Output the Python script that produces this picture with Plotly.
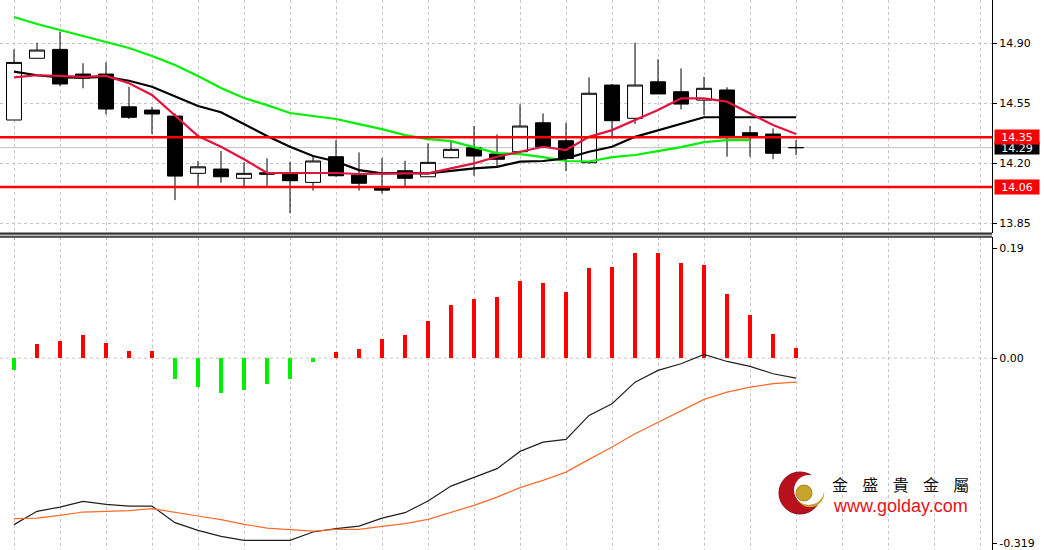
import plotly.graph_objects as go

# ---------------- data ----------------
candle_idx = list(range(35))
opens = [14.451, 14.811, 14.863, 14.719, 14.719, 14.528, 14.509, 14.474, 14.140, 14.165,
         14.111, 14.143, 14.140, 14.087, 14.237, 14.130, 14.062, 14.155, 14.120, 14.231,
         14.289, 14.253, 14.266, 14.435, 14.330, 14.202, 14.655, 14.461, 14.674, 14.616,
         14.567, 14.626, 14.377, 14.369, 14.290]
highs = [14.863, 14.902, 14.966, 14.782, 14.787, 14.645, 14.528, 14.490, 14.213, 14.270,
         14.204, 14.228, 14.208, 14.237, 14.334, 14.262, 14.229, 14.213, 14.315, 14.324,
         14.416, 14.367, 14.542, 14.490, 14.435, 14.700, 14.660, 14.902, 14.805, 14.752,
         14.703, 14.642, 14.416, 14.402, 14.334]
lows = [14.451, 14.811, 14.649, 14.636, 14.484, 14.457, 14.369, 13.984, 14.062, 14.085,
        14.062, 14.062, 13.907, 14.039, 14.120, 14.039, 14.023, 14.062, 14.120, 14.227,
        14.126, 14.178, 14.257, 14.286, 14.153, 14.198, 14.353, 14.428, 14.603, 14.513,
        14.480, 14.237, 14.237, 14.222, 14.247]
closes = [14.787, 14.859, 14.661, 14.696, 14.515, 14.467, 14.486, 14.124, 14.178, 14.120,
          14.140, 14.135, 14.097, 14.212, 14.126, 14.082, 14.042, 14.111, 14.204, 14.280,
          14.241, 14.222, 14.416, 14.295, 14.227, 14.607, 14.447, 14.655, 14.603, 14.544,
          14.636, 14.350, 14.350, 14.257, 14.290]

ma_slow_green = [15.052, 15.011, 14.976, 14.941, 14.906, 14.871, 14.824, 14.772, 14.708, 14.638,
                 14.579, 14.538, 14.492, 14.474, 14.457, 14.427, 14.398, 14.363, 14.340, 14.328,
                 14.293, 14.258, 14.252, 14.235, 14.212, 14.209, 14.235, 14.247, 14.270, 14.293,
                 14.322, 14.334, 14.334]
ma_mid_black = [14.733, 14.712, 14.700, 14.698, 14.703, 14.680, 14.645, 14.587, 14.533, 14.496,
                14.428, 14.358, 14.295, 14.241, 14.209, 14.159, 14.140, 14.143, 14.140, 14.155,
                14.169, 14.178, 14.208, 14.212, 14.227, 14.266, 14.295, 14.353, 14.392, 14.431,
                14.467, 14.467, 14.467, 14.467, 14.467]
ma_fast_red = [14.700, 14.712, 14.708, 14.703, 14.708, 14.665, 14.597, 14.480, 14.358, 14.295,
               14.222, 14.143, 14.143, 14.143, 14.142, 14.136, 14.140, 14.140, 14.140, 14.169,
               14.198, 14.237, 14.266, 14.295, 14.276, 14.353, 14.392, 14.451, 14.509, 14.577,
               14.577, 14.558, 14.490, 14.422, 14.369]

resistance_level = 14.35
support_level = 14.06
bid_level = 14.29

price_tickvals = [14.90, 14.55, 14.20, 13.85]
price_ticktext = ["14.90", "14.55", "14.20", "13.85"]

macd_hist = [-0.0212, 0.0236, 0.0293, 0.0402, 0.0264, 0.0121, 0.0126, -0.0357, -0.0500, -0.0603,
             -0.0557, -0.0443, -0.0357, -0.0069, 0.0103, 0.0150, 0.0322, 0.0402, 0.0633, 0.0909,
             0.1022, 0.1052, 0.1328, 0.1298, 0.1138, 0.1557, 0.1581, 0.1810, 0.1816, 0.1638,
             0.1609, 0.1109, 0.0747, 0.0409, 0.0178]
macd_line = [-0.2872, -0.2643, -0.2569, -0.2471, -0.2522, -0.2552, -0.2552, -0.2838, -0.2971, -0.3074,
             -0.3143, -0.3143, -0.3143, -0.3000, -0.2941, -0.2897, -0.2759, -0.2666, -0.2466, -0.2207,
             -0.2052, -0.1907, -0.1609, -0.1448, -0.1402, -0.0988, -0.0786, -0.0414, -0.0212, -0.0097,
             0.0064, -0.0057, -0.0143, -0.0269, -0.0345]
signal_line = [-0.2769, -0.2759, -0.2712, -0.2655, -0.2643, -0.2631, -0.2597, -0.2666, -0.2724, -0.2786,
               -0.2867, -0.2931, -0.2959, -0.2983, -0.2953, -0.2953, -0.2902, -0.2855, -0.2781, -0.2666,
               -0.2540, -0.2397, -0.2234, -0.2109, -0.1966, -0.1747, -0.1534, -0.1303, -0.1103, -0.0902,
               -0.0712, -0.0586, -0.0500, -0.0441, -0.0414]

macd_tickvals = [0.19, 0.0, -0.319]
macd_ticktext = ["0.19", "0.00", "-0.319"]

logo_title = ["金", "盛", "貴", "金", "屬"]
logo_url = "www.golday.com"

# ---------------- layout helpers (pixel -> paper) ----------------
W, H = 1044, 550
PLOT_W = 992


def px_x(p):
    return p / PLOT_W


def px_y(p):
    return 1 - p / H


GRID = "#c4c4c4"
FONT = "DejaVu Sans"

fig = go.Figure()

fig.add_trace(go.Candlestick(
    x=candle_idx, open=opens, high=highs, low=lows, close=closes,
    increasing=dict(fillcolor="white", line=dict(color="black", width=1)),
    decreasing=dict(fillcolor="black", line=dict(color="black", width=1)),
    whiskerwidth=0, xaxis="x", yaxis="y", showlegend=False, hoverinfo="skip"))

fig.add_trace(go.Scatter(x=candle_idx[:len(ma_slow_green)], y=ma_slow_green, mode="lines",
                         line=dict(color="#00f000", width=2.2), xaxis="x", yaxis="y", showlegend=False))
fig.add_trace(go.Scatter(x=candle_idx, y=ma_mid_black, mode="lines",
                         line=dict(color="black", width=2.2), xaxis="x", yaxis="y", showlegend=False))
fig.add_trace(go.Scatter(x=candle_idx, y=ma_fast_red, mode="lines",
                         line=dict(color="#e0143c", width=2.2), xaxis="x", yaxis="y", showlegend=False))

hist_colors = ["#ff0000" if v >= 0 else "#00f000" for v in macd_hist]
fig.add_trace(go.Bar(x=candle_idx, y=macd_hist, marker=dict(color=hist_colors, line=dict(width=0)),
                     width=0.18, xaxis="x2", yaxis="y2", showlegend=False))
fig.add_trace(go.Scatter(x=candle_idx, y=macd_line, mode="lines",
                         line=dict(color="#202020", width=1.2), xaxis="x2", yaxis="y2", showlegend=False))
fig.add_trace(go.Scatter(x=candle_idx, y=signal_line, mode="lines",
                         line=dict(color="#ff6a2a", width=1.2), xaxis="x2", yaxis="y2", showlegend=False))

price_top = px_y(233)
macd_top = px_y(237)

xcommon = dict(range=[-0.609, 42.52], showticklabels=False, showgrid=True, gridcolor=GRID,
               griddash="3px,3px", gridwidth=1, tick0=0, dtick=2, ticks="", zeroline=False,
               showline=False)

shapes = [
    dict(type="line", xref="paper", yref="y", x0=0, x1=1, y0=bid_level, y1=bid_level,
         line=dict(color="#c0c0c0", width=1), layer="below"),
    dict(type="line", xref="paper", yref="y", x0=0, x1=1, y0=resistance_level, y1=resistance_level,
         line=dict(color="#ff0000", width=2.5)),
    dict(type="line", xref="paper", yref="y", x0=0, x1=1, y0=support_level, y1=support_level,
         line=dict(color="#ff0000", width=2.5)),
    dict(type="line", xref="paper", yref="y2", x0=0, x1=1, y0=0, y1=0,
         line=dict(color=GRID, width=1, dash="3px,3px"), layer="below"),
    dict(type="rect", xref="paper", yref="paper", x0=0, x1=1, y0=px_y(237), y1=px_y(233),
         fillcolor="#b8b8b8", line=dict(width=0)),
    dict(type="line", xref="paper", yref="paper", x0=0, x1=1, y0=px_y(233.5), y1=px_y(233.5),
         line=dict(color="#303030", width=2)),
    dict(type="line", xref="paper", yref="paper", x0=0, x1=1, y0=px_y(237), y1=px_y(237),
         line=dict(color="#303030", width=1.5)),
]

# logo (decoration)
cx, cy, r = 800, 493, 21
shapes += [
    dict(type="circle", xref="paper", yref="paper", x0=px_x(cx - r), x1=px_x(cx + r),
         y0=px_y(cy + r), y1=px_y(cy - r), fillcolor="#b8101c", line=dict(color="#8a0a12", width=1)),
    dict(type="circle", xref="paper", yref="paper", x0=px_x(cx + 10 - 13), x1=px_x(cx + 10 + 13),
         y0=px_y(cy + 13), y1=px_y(cy - 13), fillcolor="rgba(0,0,0,0)",
         line=dict(color="#c9a233", width=2.5)),
    dict(type="circle", xref="paper", yref="paper", x0=px_x(cx + 9 - 15), x1=px_x(cx + 9 + 15),
         y0=px_y(cy - 3 + 15), y1=px_y(cy - 3 - 15), fillcolor="white", line=dict(width=0)),
    dict(type="circle", xref="paper", yref="paper", x0=px_x(cx + 4 - 8), x1=px_x(cx + 4 + 8),
         y0=px_y(cy + 8), y1=px_y(cy - 8), fillcolor="#c9a42c", line=dict(color="#a8861e", width=1)),
]

annotations = []
label_x = px_x(1017)
annotations.append(dict(xref="paper", yref="y", x=label_x, y=bid_level, text="14.29", showarrow=False,
                        bgcolor="black", font=dict(color="white", size=11, family=FONT),
                        width=44, height=12, borderpad=0, xanchor="center", yanchor="middle"))
annotations.append(dict(xref="paper", yref="y", x=label_x, y=resistance_level, text="14.35", showarrow=False,
                        bgcolor="#ff0000", font=dict(color="white", size=11, family=FONT),
                        width=44, height=14, borderpad=0, xanchor="center", yanchor="middle"))
annotations.append(dict(xref="paper", yref="y", x=label_x, y=support_level, text="14.06", showarrow=False,
                        bgcolor="#ff0000", font=dict(color="white", size=11, family=FONT),
                        width=44, height=14, borderpad=0, xanchor="center", yanchor="middle"))

gap = "&nbsp;&nbsp;&nbsp;&nbsp;"
annotations.append(dict(xref="paper", yref="paper", x=px_x(900), y=px_y(483.5),
                        text=gap.join(logo_title), showarrow=False, borderpad=0,
                        font=dict(size=16, family="Noto Sans CJK TC", color="#111111"),
                        xanchor="center", yanchor="middle"))
annotations.append(dict(xref="paper", yref="paper", x=px_x(900), y=px_y(506), text=logo_url,
                        showarrow=False, borderpad=0,
                        font=dict(size=18, family="Liberation Sans", color="#e8101c"),
                        xanchor="center", yanchor="middle"))

fig.update_layout(
    width=W, height=H,
    margin=dict(l=0, r=W - PLOT_W, t=0, b=0),
    paper_bgcolor="white", plot_bgcolor="white",
    showlegend=False, boxgap=0.35, boxgroupgap=0, bargap=0,
    font=dict(family=FONT, size=11, color="black"),
    xaxis=dict(domain=[0, 1], anchor="y", rangeslider=dict(visible=False), **xcommon),
    xaxis2=dict(domain=[0, 1], anchor="y2", matches="x", **xcommon),
    yaxis=dict(domain=[price_top, 1], range=[13.792, 15.151], side="right", anchor="x",
               tickvals=price_tickvals, ticktext=price_ticktext, showgrid=True, gridcolor=GRID,
               griddash="3px,3px", zeroline=False, showline=True, linecolor="black", linewidth=1,
               ticks="outside", ticklen=4, tickcolor="black", tickfont=dict(size=11, family=FONT)),
    yaxis2=dict(domain=[0, macd_top], range=[-0.331, 0.209], side="right", anchor="x2",
                tickvals=macd_tickvals, ticktext=macd_ticktext, showgrid=False, zeroline=False,
                showline=True, linecolor="black", linewidth=1, ticks="outside", ticklen=4,
                tickcolor="black", tickfont=dict(size=11, family=FONT)),
    shapes=shapes,
    annotations=annotations,
)

fig.write_html("out.html", config={"displayModeBar": False},
               post_script="document.body.style.margin='0';document.body.style.padding='0';"
                           "document.body.style.overflow='hidden';")
